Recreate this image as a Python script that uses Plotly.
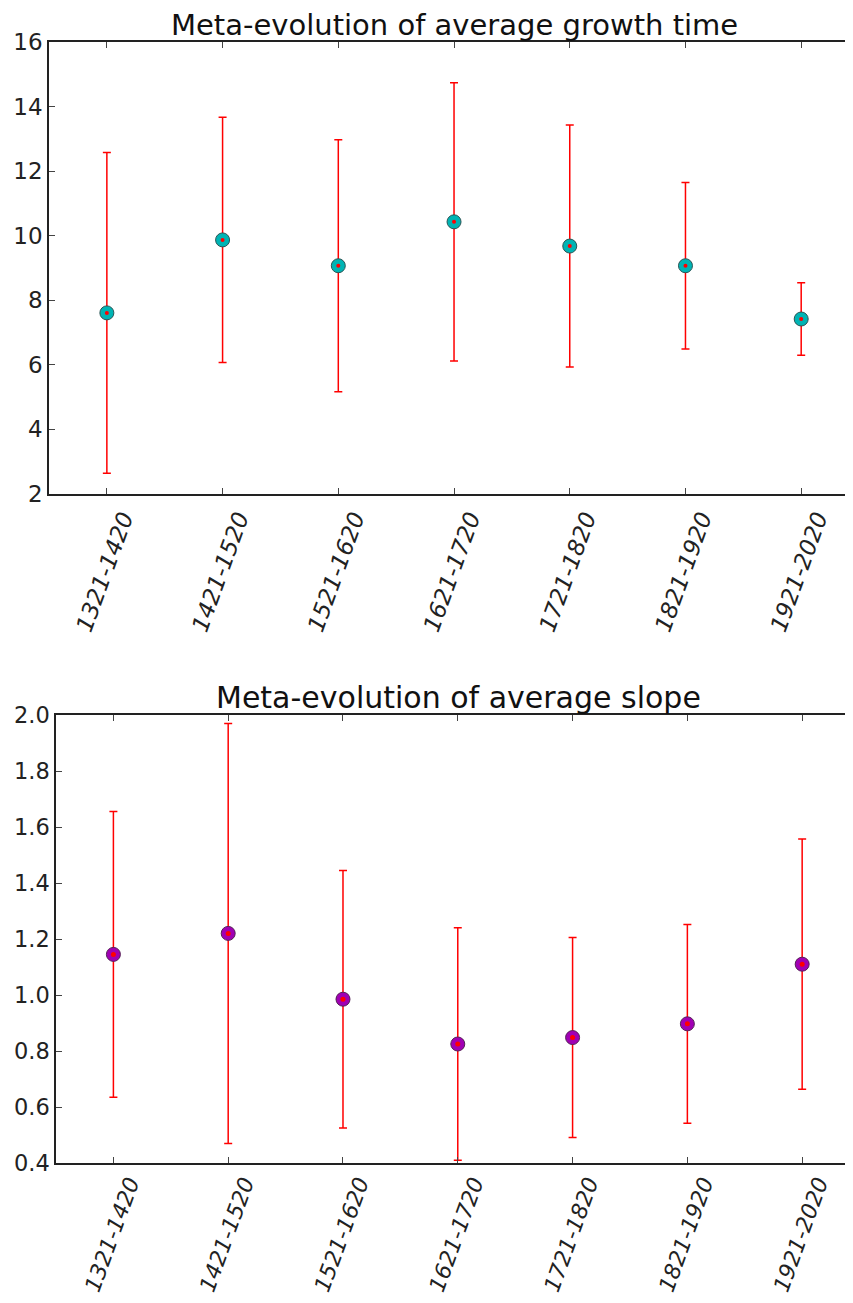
import plotly.graph_objects as go

periods = ["1321-1420", "1421-1520", "1521-1620", "1621-1720", "1721-1820", "1821-1920", "1921-2020"]
growth_mean = [7.61, 9.87, 9.07, 10.43, 9.68, 9.07, 7.42]
growth_err = [4.97, 3.80, 3.90, 4.31, 3.75, 2.58, 1.12]
slope_mean = [1.145, 1.22, 0.985, 0.825, 0.848, 0.897, 1.11]
slope_err = [0.51, 0.75, 0.46, 0.415, 0.357, 0.355, 0.447]

# page has an 8px body margin on every side: keep the figure inside the window
OFF = 8
W, H = 853 - 2 * OFF, 1303 - 2 * OFF
xs = list(range(len(periods)))


def px_x(p):
    return (p - OFF) / W


def px_y(p):
    return 1 - (p - OFF) / H


# x-position (in category units) of the right edge of the drawing area
def right_range(first_tick_px, spacing_px):
    return (OFF + W - first_tick_px) / spacing_px


FONT = "DejaVu Sans"

fig = go.Figure()

# top: growth time
fig.add_trace(go.Scatter(
    x=xs, y=growth_mean, mode="markers", xaxis="x", yaxis="y",
    marker=dict(size=14, color="#00b4b4", line=dict(color="#2a5555", width=1)),
    error_y=dict(type="data", array=growth_err, color="#ff0000", thickness=1.5, width=4),
    showlegend=False, hoverinfo="skip"))
fig.add_trace(go.Scatter(
    x=xs, y=growth_mean, mode="markers", xaxis="x", yaxis="y",
    marker=dict(size=4, color="#ff0000"), showlegend=False, hoverinfo="skip"))

# bottom: slope
fig.add_trace(go.Scatter(
    x=xs, y=slope_mean, mode="markers", xaxis="x2", yaxis="y2",
    marker=dict(size=14, color="#a000b4", line=dict(color="#552255", width=1)),
    error_y=dict(type="data", array=slope_err, color="#ff0000", thickness=1.5, width=4),
    showlegend=False, hoverinfo="skip"))
fig.add_trace(go.Scatter(
    x=xs, y=slope_mean, mode="markers", xaxis="x2", yaxis="y2",
    marker=dict(size=5, color="#ff0000"), showlegend=False, hoverinfo="skip"))

axis_common = dict(showline=True, linecolor="#222222", linewidth=1.5, ticks="inside",
                   ticklen=6, tickcolor="#444444", showgrid=False, zeroline=False,
                   automargin=False)

fig.update_layout(
    width=W, height=H, margin=dict(l=0, r=0, t=0, b=0, autoexpand=False),
    plot_bgcolor="white", paper_bgcolor="white",
    xaxis=dict(domain=[px_x(49), 1], range=[-0.5, right_range(107, 115.7)], tickmode="array",
               tickvals=xs, ticktext=periods, tickangle=-70, mirror="ticks", anchor="y",
               tickfont=dict(family=FONT, size=23, color="#222222", style="italic"),
               ticklabelshift=16, ticklabelstandoff=0, **axis_common),
    yaxis=dict(domain=[px_y(494), px_y(42)], range=[2, 16], tickvals=[2, 4, 6, 8, 10, 12, 14, 16],
               anchor="x", mirror=False, tickfont=dict(family=FONT, size=23, color="#222222"),
               **axis_common),
    xaxis2=dict(domain=[px_x(56), 1], range=[-0.5, right_range(114, 114.7)], tickmode="array",
                tickvals=xs, ticktext=periods, tickangle=-70, mirror="ticks", anchor="y2",
                tickfont=dict(family=FONT, size=22, color="#222222", style="italic"),
                ticklabelshift=16, ticklabelstandoff=-3, **axis_common),
    yaxis2=dict(domain=[px_y(1163), px_y(715)], range=[0.4, 2.0],
                tickvals=[0.4, 0.6, 0.8, 1.0, 1.2, 1.4, 1.6, 1.8, 2.0], tickformat=".1f",
                anchor="x2", mirror=False, tickfont=dict(family=FONT, size=22.5, color="#222222"),
                **axis_common),
    annotations=[
        dict(text="Meta-evolution of average growth time", x=px_x(454), y=px_y(25),
             xref="paper", yref="paper", showarrow=False, xanchor="center", yanchor="middle",
             font=dict(family=FONT, size=29, color="#111111")),
        dict(text="Meta-evolution of average slope", x=px_x(458), y=px_y(697),
             xref="paper", yref="paper", showarrow=False, xanchor="center", yanchor="middle",
             font=dict(family=FONT, size=30, color="#111111")),
    ],
    shapes=[
        # the panels run past the window's right edge in the reference: no right border
        dict(type="rect", xref="paper", yref="paper", x0=(W - 3) / W, x1=1,
             y0=px_y(494) + 1 / H, y1=px_y(42) - 1 / H, fillcolor="white",
             line=dict(width=0), layer="above"),
        dict(type="rect", xref="paper", yref="paper", x0=(W - 3) / W, x1=1,
             y0=px_y(1163) + 1 / H, y1=px_y(715) - 1 / H, fillcolor="white",
             line=dict(width=0), layer="above"),
    ],
)

fig.write_html("out.html")
